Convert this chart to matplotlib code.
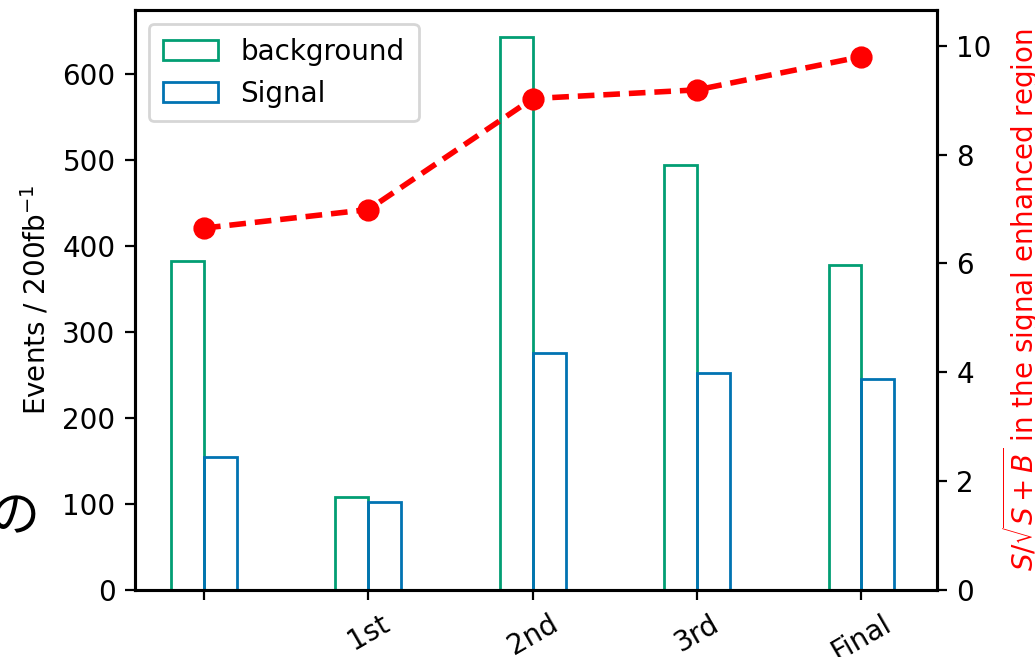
import matplotlib
matplotlib.use("Agg")
import matplotlib.pyplot as plt
import numpy as np

categories = ["", "1st", "2nd", "3rd", "Final"]
background = [382, 108, 642, 494, 377]
signal = [155, 102, 275, 252, 245]
significance = [6.65, 6.99, 9.03, 9.19, 9.80]

plt.rcParams['font.family'] = ['DejaVu Sans', 'Noto Sans CJK JP']
plt.rcParams['font.size'] = 10

fig = plt.figure(figsize=(5.175, 3.285), dpi=200)
ax = fig.add_axes([0.1304, 0.102, 0.7749, 0.883])
x = np.arange(len(categories))
w = 0.2
ax.bar(x - w / 2, background, width=w, fill=False, edgecolor="#029e73",
       linewidth=1.0, label="background")
ax.bar(x + w / 2, signal, width=w, fill=False, edgecolor="#0173b2",
       linewidth=1.0, label="Signal")
ax.set_xticks(x)
ax.set_xticklabels(categories, rotation=30)
ax.set_xlim(-0.42, 4.46)
ax.set_ylim(0, 674)
ax.set_ylabel("Events / 200fb$^{-1}$")
ax.legend(loc="upper left", handlelength=2.0, borderpad=0.5, labelspacing=0.5)

ax2 = ax.twinx()
ax2.plot(x, significance, color="red", linestyle="--", linewidth=2,
         marker="o", markersize=7, dashes=(3, 1.6))
ax2.set_ylim(0, 10.66)
ax2.set_ylabel(r"$S/\sqrt{S+B}$ in the signal enhanced region", color="red",
               labelpad=3)

for a in (ax, ax2):
    for s in a.spines.values():
        s.set_linewidth(1.1)

fig.text(0.0145, 0.213, "の", family=['Noto Sans CJK JP'], fontsize=18,
         ha="center", va="center")

fig.savefig("out.png", dpi=200)
